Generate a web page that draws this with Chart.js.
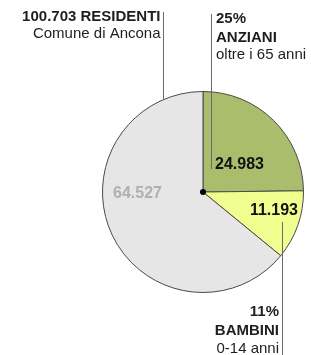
<!DOCTYPE html>
<html>
<head>
<meta charset="utf-8">
<script src="https://cdn.jsdelivr.net/npm/chart.js@4.4.1/dist/chart.umd.min.js"></script>
<style>
  html, body { margin: 0; padding: 0; background: #fff; }
  #wrap { width: 311px; height: 355px; position: relative; }
</style>
</head>
<body>
<div id="wrap"><canvas id="pie"></canvas></div>
<script>
// Residents of Ancona by age group
const categories = ["Anziani", "Bambini", "Altri"];
const residents = [24983, 11193, 64527];
const valueLabels = ["24.983", "11.193", "64.527"];
const totalLabel = "100.703 RESIDENTI";
const percentLabels = ["25%", "11%"];
const groupLabels = ["ANZIANI", "BAMBINI"];
const ageLabels = ["oltre i 65 anni", "0-14 anni"];

const sliceColors = ["#a9bd6c", "#effe8e", "#e6e6e6"];
const FONT = "'Liberation Sans', Arial, sans-serif";

const labelsPlugin = {
  id: "labels",
  afterDatasetsDraw(chart) {
    const ctx = chart.ctx;
    const arc = chart.getDatasetMeta(0).data[0];
    const cx = arc.x;
    const cy = arc.y;
    const r = arc.outerRadius;

    ctx.save();
    ctx.strokeStyle = "#6a6a6a";
    ctx.lineWidth = 1;

    // line from "residenti" label down to the pie edge
    const lx = cx - 39.5;
    ctx.beginPath();
    ctx.moveTo(lx, 12);
    ctx.lineTo(lx, cy - Math.sqrt(r * r - 39.5 * 39.5));
    ctx.stroke();

    // anziani line
    ctx.beginPath();
    ctx.moveTo(cx + 8.5, 14);
    ctx.lineTo(cx + 8.5, cy - 23);
    ctx.stroke();

    // bambini line
    ctx.beginPath();
    ctx.moveTo(cx + 79.5, cy + 30);
    ctx.lineTo(cx + 79.5, 355);
    ctx.stroke();

    // centre dot
    ctx.fillStyle = "#000";
    ctx.beginPath();
    ctx.arc(cx, cy, 3, 0, Math.PI * 2);
    ctx.fill();

    ctx.textBaseline = "middle";

    // top-left total
    ctx.textAlign = "right";
    ctx.fillStyle = "#1e1e1e";
    ctx.font = "bold 15px " + FONT;
    ctx.fillText(totalLabel, lx - 3, 17);
    ctx.font = "15px " + FONT;
    ctx.fillText("Comune di Ancona", lx - 3, 34);

    // anziani text
    ctx.textAlign = "left";
    ctx.font = "bold 15px " + FONT;
    ctx.fillText(percentLabels[0], cx + 13, 19);
    ctx.fillText(groupLabels[0], cx + 13, 38);
    ctx.font = "15px " + FONT;
    ctx.fillText(ageLabels[0], cx + 13, 55);

    // bambini text
    ctx.textAlign = "right";
    ctx.font = "bold 15px " + FONT;
    ctx.fillText(percentLabels[1], cx + 76, 312);
    ctx.fillText(groupLabels[1], cx + 76, 331);
    ctx.font = "15px " + FONT;
    ctx.fillText(ageLabels[1], cx + 76, 349);

    // values inside slices
    ctx.font = "bold 16px " + FONT;
    ctx.textAlign = "left";
    ctx.fillStyle = "#111";
    ctx.fillText(valueLabels[0], cx + 12, cy - 27);
    ctx.textAlign = "right";
    ctx.fillText(valueLabels[1], cx + 95, cy + 19);
    ctx.textAlign = "left";
    ctx.fillStyle = "#b0b0b0";
    ctx.fillText(valueLabels[2], cx - 90, cy + 2);

    ctx.restore();
  }
};

new Chart(document.getElementById("pie"), {
  type: "pie",
  data: {
    labels: categories,
    datasets: [{
      data: residents,
      backgroundColor: sliceColors,
      borderColor: "#4a4a4a",
      borderWidth: 1
    }]
  },
  options: {
    responsive: true,
    maintainAspectRatio: false,
    animation: false,
    layout: { padding: { top: 91, bottom: 62, left: 102, right: 7 } },
    plugins: {
      legend: { display: false },
      tooltip: { enabled: false }
    }
  },
  plugins: [labelsPlugin]
});
</script>
</body>
</html>
